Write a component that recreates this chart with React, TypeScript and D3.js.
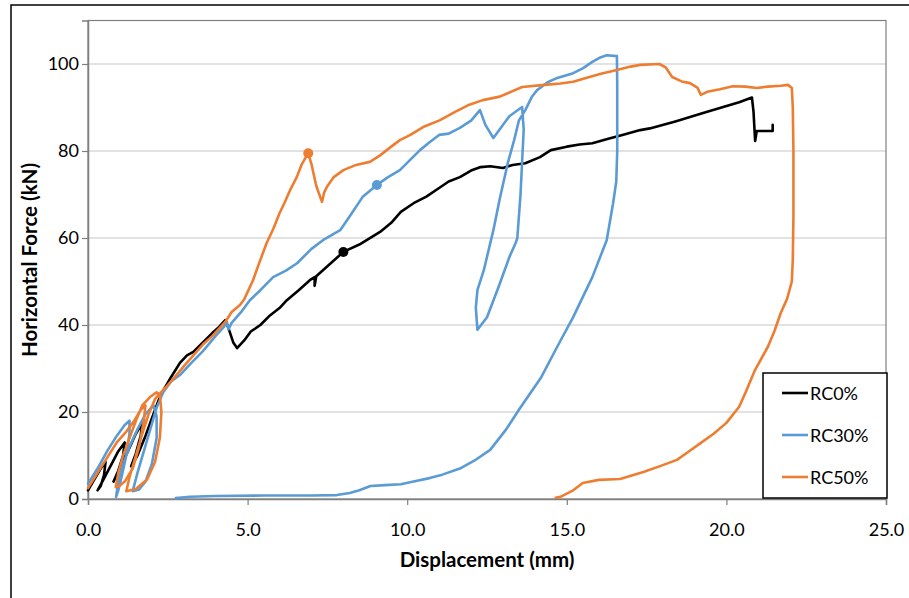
import React, { useEffect, useRef } from "react";
import * as d3 from "d3";

// displacement (mm), force (kN) pairs
const rc0: [number, number][] = [
  [0, 2], [0.2, 4.5], [0.4, 7], [0.55, 8.5], [0.5, 5.5], [0.4, 3], [0.3, 2], [0.45, 4],
  [0.7, 7.5], [0.95, 11], [1.15, 13], [1.1, 10], [0.95, 6.5], [0.8, 4], [1.0, 7], [1.25, 11],
  [1.5, 15], [1.7, 17.5], [1.65, 14.5], [1.5, 10.5], [1.35, 7.5], [1.55, 10], [1.8, 14.5],
  [2.0, 18.5], [2.2, 22.5], [2.4, 25.5], [2.6, 28], [2.88, 31.3], [3.1, 33], [3.3, 33.8], [3.6, 36],
  [3.9, 38.2], [4.1, 39.5], [4.3, 41.1], [4.4, 39.3], [4.55, 36], [4.67, 34.7], [4.9, 36.5],
  [5.1, 38.5], [5.4, 40], [5.7, 42.2], [6.0, 43.9], [6.23, 45.7], [6.6, 48], [6.95, 50.3], [7.1, 51],
  [7.1, 49], [7.15, 51.2], [7.5, 53.5], [8.0, 56.8], [8.5, 58.5], [9.15, 61.4], [9.5, 63.5],
  [9.8, 66], [10.2, 68], [10.6, 69.5], [11.0, 71.5], [11.3, 73], [11.65, 74], [12.0, 75.5],
  [12.3, 76.3], [12.6, 76.5], [13.0, 76.1], [13.3, 76.8], [13.7, 77.2], [14.16, 78.6], [14.5, 80.2],
  [15.0, 81], [15.4, 81.5], [15.8, 81.8], [16.3, 82.8], [16.8, 83.8], [17.3, 84.8], [17.6, 85.2],
  [18.0, 86], [18.4, 86.8], [18.86, 87.8], [19.4, 89], [19.9, 90.1], [20.4, 91.2], [20.8, 92.3],
  [20.85, 89], [20.9, 82.3], [20.95, 84.6], [21.45, 84.6], [21.45, 86],
];

const rc30: [number, number][] = [
  [0, 3.5], [0.3, 7], [0.6, 11], [0.9, 14.5], [1.15, 17], [1.3, 18], [1.3, 15], [1.2, 10],
  [1.05, 5], [0.95, 2], [0.88, 0.5], [0.95, 4], [1.1, 8], [1.3, 12], [1.55, 16], [1.8, 19.5],
  [2.05, 21.5], [2.15, 19], [2.15, 14], [2.0, 8], [1.8, 4], [1.6, 2.2], [1.4, 1.8], [1.55, 6],
  [1.75, 11], [1.95, 16], [2.15, 21], [2.35, 24.5], [2.6, 27], [2.88, 28.5], [3.2, 31], [3.6, 34],
  [4.0, 37.5], [4.25, 39.5], [4.35, 40.7], [4.4, 39], [4.5, 40.5], [4.8, 43], [5.07, 45.7], [5.4, 48],
  [5.8, 51], [6.2, 52.5], [6.55, 54.2], [7.0, 57.5], [7.36, 59.5], [7.9, 61.8], [8.2, 65], [8.6, 69.4],
  [9.05, 72.2], [9.4, 74], [9.77, 75.6], [10.1, 78], [10.4, 80.2], [10.7, 82], [11.0, 83.7], [11.3, 84],
  [11.65, 85.3], [12.0, 87], [12.28, 89.4], [12.45, 86], [12.7, 83], [12.9, 85], [13.2, 88], [13.6, 90.1],
  [13.65, 85], [13.55, 70], [13.45, 60], [13.4, 58.9], [13.2, 55.6], [12.85, 48.5], [12.5, 41.8],
  [12.2, 38.9], [12.15, 44], [12.2, 48], [12.4, 52.6], [12.7, 61.8], [12.9, 69], [13.15, 77.2],
  [13.35, 82.5], [13.5, 87], [13.7, 89.4], [13.9, 92.4], [14.07, 94], [14.4, 95.8], [14.7, 96.8],
  [15.2, 97.9], [15.5, 99], [15.8, 100.5], [16.05, 101.5], [16.25, 102], [16.57, 101.8], [16.58, 95],
  [16.58, 80], [16.55, 73], [16.45, 68], [16.25, 59.5], [15.8, 51], [15.2, 41.8], [14.7, 35],
  [14.2, 28], [13.5, 20.5], [13.1, 16], [12.6, 11.3], [12.1, 8.8], [11.65, 7], [11.1, 5.6],
  [10.7, 4.8], [10.2, 4], [9.8, 3.4], [9.3, 3.2], [8.85, 3], [8.5, 2], [8.2, 1.4], [7.8, 0.9],
  [7.0, 0.8], [5.5, 0.8], [4.0, 0.7], [3.2, 0.5], [2.75, 0.2],
];

const rc50: [number, number][] = [
  [0, 2.5], [0.3, 6], [0.6, 9.5], [0.9, 13], [1.2, 15.5], [1.45, 18], [1.65, 20.5], [1.8, 21.5],
  [1.75, 18], [1.6, 12], [1.4, 7], [1.15, 4], [0.95, 2.8], [0.87, 2.7], [0.95, 6], [1.1, 10],
  [1.3, 14], [1.5, 18], [1.7, 21.5], [1.95, 23.5], [2.15, 24.5], [2.25, 24], [2.3, 20], [2.25, 14],
  [2.1, 8.5], [1.85, 4.5], [1.5, 2.3], [1.2, 1.8], [1.3, 5], [1.5, 10], [1.7, 15], [1.9, 19.5],
  [2.1, 23], [2.35, 25], [2.6, 27], [3.0, 30.5], [3.3, 33], [3.6, 35.5], [3.9, 37.5], [4.3, 40.7],
  [4.5, 43], [4.76, 44.6], [4.9, 46], [5.17, 50.3], [5.35, 54], [5.6, 58.9], [5.8, 62], [6.0, 65.7],
  [6.15, 68], [6.33, 71], [6.54, 74], [6.7, 77], [6.9, 79.5], [7.0, 77], [7.15, 72], [7.33, 68.3],
  [7.4, 70.5], [7.48, 71.7], [7.7, 74], [8.0, 75.6], [8.4, 76.8], [8.83, 77.5], [9.15, 79], [9.5, 81],
  [9.77, 82.5], [10.1, 83.7], [10.5, 85.5], [11.03, 87.1], [11.5, 89], [11.9, 90.5], [12.37, 91.7],
  [12.9, 92.5], [13.6, 94.7], [14.3, 95.2], [14.8, 95.5], [15.2, 95.9], [15.6, 96.8], [16.1, 97.8],
  [16.57, 98.6], [17.0, 99.4], [17.3, 99.8], [17.9, 100], [18.1, 99.2], [18.3, 97], [18.6, 96],
  [18.86, 95.6], [19.1, 94.5], [19.2, 92.9], [19.4, 93.6], [19.8, 94.2], [20.2, 94.9], [20.6, 94.8],
  [20.95, 94.5], [21.3, 94.8], [21.7, 95], [21.93, 95.2], [22.05, 94.5], [22.08, 90], [22.1, 80],
  [22.1, 65], [22.08, 55], [22.05, 50], [21.9, 46], [21.7, 42.7], [21.5, 38.5], [21.3, 35],
  [20.9, 29.7], [20.6, 24.5], [20.4, 21.2], [20.0, 17.5], [19.6, 15], [19.2, 12.9], [18.8, 10.8],
  [18.45, 9], [17.9, 7.5], [17.4, 6.2], [16.67, 4.6], [16.0, 4.4], [15.5, 3.7], [15.2, 2], [14.8, 0.5],
  [14.65, 0.3],
];

const seriesNames = ["RC0%", "RC30%", "RC50%"];
const seriesColors = ["#000000", "#5b9bd5", "#ed7d31"];
// highlighted points on each curve
const markerPoints: [number, number][] = [[8.0, 56.8], [9.05, 72.2], [6.9, 79.5]];

const xTicks = [0, 5, 10, 15, 20, 25];
const yTicks = [0, 20, 40, 60, 80, 100];

const App = () => {
  const ref = useRef<SVGSVGElement>(null);

  useEffect(() => {
    document.body.style.margin = "0";
    const width = 909;
    const height = 598;
    const font = "Lato, 'Open Sans', sans-serif";

    const svg = d3.select(ref.current).attr("width", width).attr("height", height);
    svg.selectAll("*").remove();

    svg.append("rect").attr("width", width).attr("height", height).attr("fill", "#fff");
    // outer chart frame (runs off the right and bottom)
    svg
      .append("rect")
      .attr("x", 11)
      .attr("y", 5)
      .attr("width", 920)
      .attr("height", 620)
      .attr("fill", "none")
      .attr("stroke", "#000")
      .attr("stroke-width", 1.5);

    const x = d3.scaleLinear().domain([0, 25]).range([88, 886]);
    const y = d3.scaleLinear().domain([0, 110]).range([499, 20.5]);

    // gridlines
    svg
      .append("g")
      .selectAll("line")
      .data(yTicks.filter((t) => t > 0))
      .enter()
      .append("line")
      .attr("x1", x(0))
      .attr("x2", x(25))
      .attr("y1", (d) => y(d))
      .attr("y2", (d) => y(d))
      .attr("stroke", "#d9d9d9")
      .attr("stroke-width", 1.5);

    // plot area border
    svg
      .append("rect")
      .attr("x", x(0))
      .attr("y", y(110))
      .attr("width", x(25) - x(0))
      .attr("height", y(0) - y(110))
      .attr("fill", "none")
      .attr("stroke", "#7f7f7f")
      .attr("stroke-width", 1.2);

    const xAxis = svg
      .append("g")
      .attr("transform", `translate(0,${y(0)})`)
      .call(d3.axisBottom(x).tickValues(xTicks).tickFormat(d3.format(".1f")).tickSize(6).tickPadding(18));
    const yAxis = svg
      .append("g")
      .attr("transform", `translate(${x(0)},0)`)
      .call(d3.axisLeft(y).tickValues(yTicks).tickSize(6).tickPadding(3));

    [xAxis, yAxis].forEach((g) => {
      g.select(".domain").attr("stroke", "#7f7f7f").attr("stroke-width", 1.5);
      g.selectAll(".tick line").attr("stroke", "#7f7f7f").attr("stroke-width", 1.2);
      g.selectAll(".tick text")
        .attr("fill", "#000")
        .style("font-family", font)
        .style("font-size", "18px");
    });

    const line = d3
      .line<[number, number]>()
      .x((d) => x(d[0]))
      .y((d) => y(d[1]));

    [rc0, rc30, rc50].forEach((s, i) => {
      svg
        .append("path")
        .datum(s)
        .attr("d", line)
        .attr("fill", "none")
        .attr("stroke", seriesColors[i])
        .attr("stroke-width", 2.6)
        .attr("stroke-linejoin", "round")
        .attr("stroke-linecap", "round");
    });

    svg
      .selectAll(".marker")
      .data(markerPoints)
      .enter()
      .append("circle")
      .attr("class", "marker")
      .attr("cx", (d) => x(d[0]))
      .attr("cy", (d) => y(d[1]))
      .attr("r", 5)
      .attr("fill", (d, i) => seriesColors[i]);

    // axis titles
    svg
      .append("text")
      .attr("x", 487)
      .attr("y", 567)
      .attr("text-anchor", "middle")
      .style("font-family", font)
      .style("font-size", "20.5px")
      .style("font-weight", "bold")
      .text("Displacement (mm)");
    svg
      .append("text")
      .attr("transform", "translate(37,260) rotate(-90)")
      .attr("text-anchor", "middle")
      .style("font-family", font)
      .style("font-size", "20.5px")
      .style("font-weight", "bold")
      .text("Horizontal Force (kN)");

    // legend
    const legend = svg.append("g");
    legend
      .append("rect")
      .attr("x", 763)
      .attr("y", 373)
      .attr("width", 124)
      .attr("height", 125)
      .attr("fill", "#fff")
      .attr("stroke", "#000")
      .attr("stroke-width", 1.5);
    seriesNames.forEach((name, i) => {
      const ly = 393 + i * 42;
      legend
        .append("line")
        .attr("x1", 782)
        .attr("x2", 808)
        .attr("y1", ly)
        .attr("y2", ly)
        .attr("stroke", seriesColors[i])
        .attr("stroke-width", 2.6);
      legend
        .append("text")
        .attr("x", 810)
        .attr("y", ly + 7)
        .style("font-family", font)
        .style("font-size", "18px")
        .text(name);
    });
  }, []);

  return <svg ref={ref}></svg>;
};

export default App;
